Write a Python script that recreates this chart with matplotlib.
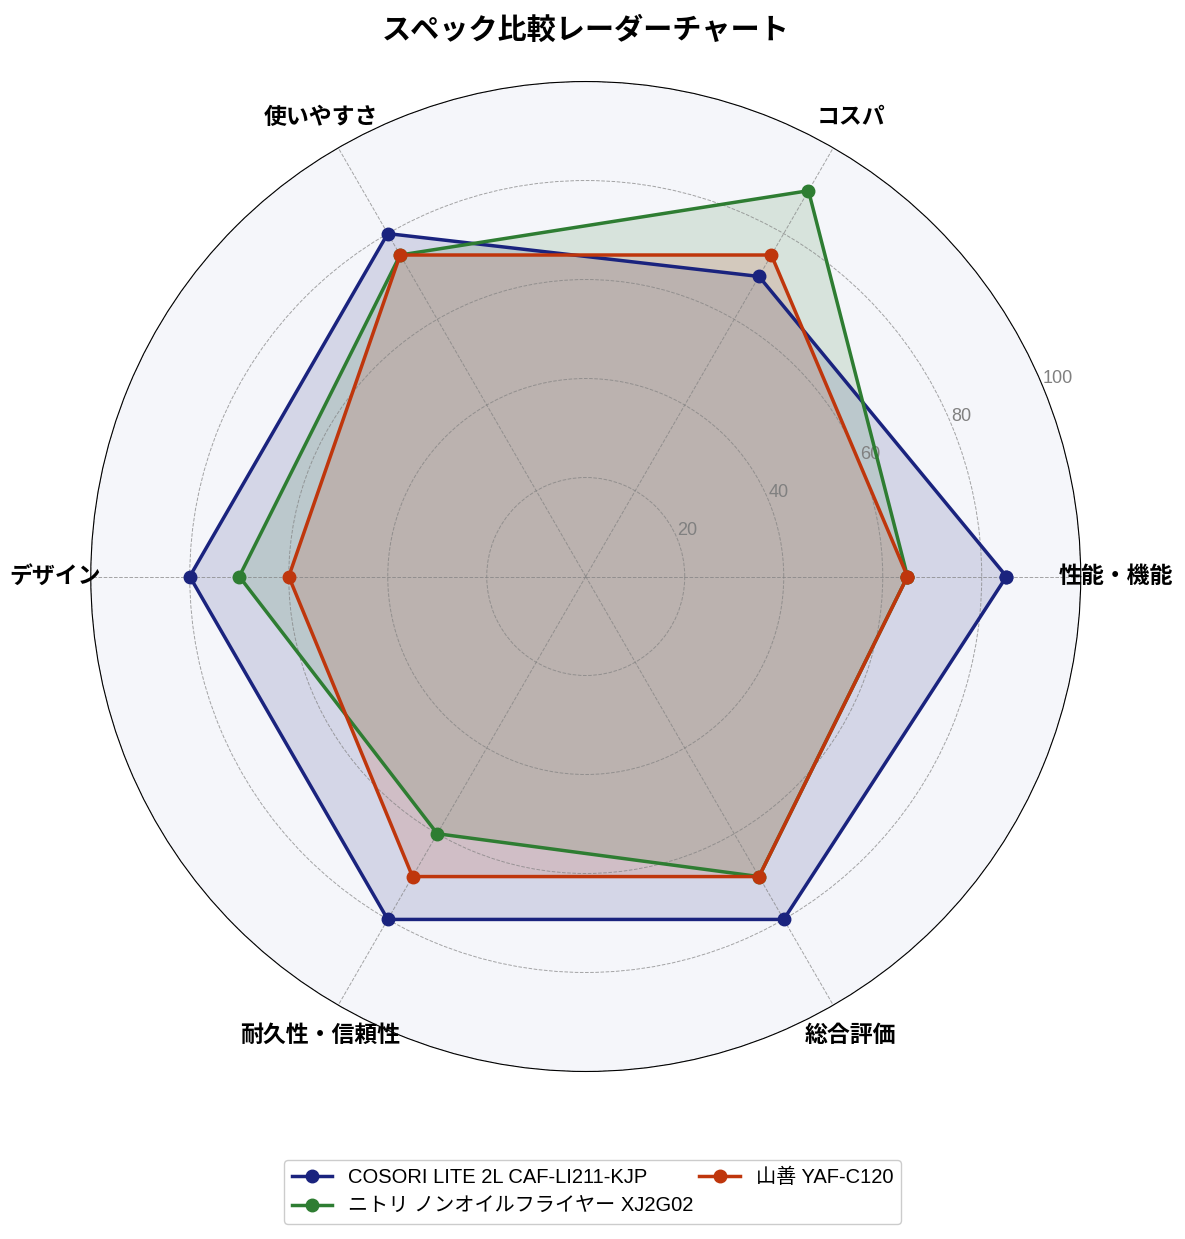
import numpy as np
import matplotlib.pyplot as plt

plt.rcParams['font.family'] = ['Liberation Sans', 'Noto Sans CJK JP']

categories = ["性能・機能", "コスパ", "使いやすさ", "デザイン", "耐久性・信頼性", "総合評価"]
products = ["COSORI LITE 2L CAF-LI211-KJP", "ニトリ ノンオイルフライヤー XJ2G02", "山善 YAF-C120"]
cosori = [85, 70, 80, 80, 80, 80]
nitori = [65, 90, 75, 70, 60, 70]
yamazen = [65, 75, 75, 60, 70, 70]
colors = ["#1a237e", "#2e7d32", "#bf360c"]
rticks = [20, 40, 60, 80, 100]

angles = np.linspace(0, 2 * np.pi, len(categories), endpoint=False).tolist()
angles += angles[:1]

fig = plt.figure(figsize=(11.85, 12.39), dpi=100)
ax = fig.add_axes([0.0766, 0.1352, 0.8354, 0.799], polar=True)
ax.set_facecolor("#f5f6fa")

for name, vals, c in zip(products, [cosori, nitori, yamazen], colors):
    v = vals + vals[:1]
    ax.plot(angles, v, "o-", color=c, linewidth=2.5, markersize=9, label=name)
    ax.fill(angles, v, color=c, alpha=0.15)

ax.set_ylim(0, 100)
ax.set_yticks(rticks)
ax.set_yticklabels([str(t) for t in rticks], color="gray", fontsize=13)
ax.set_rlabel_position(22.5)
ax.set_xticks(angles[:-1])
ax.set_xticklabels(categories, fontsize=16.5, fontweight="bold",
                   family=['Noto Sans CJK JP', 'DejaVu Sans'])
ax.tick_params(axis="x", pad=15)
ax.grid(color="gray", linestyle="--", linewidth=0.7, alpha=0.7)

ax.set_title("スペック比較レーダーチャート", fontsize=21, fontweight="bold", pad=31,
             family=['Noto Sans CJK JP', 'DejaVu Sans'])
fig.legend(loc="lower center", bbox_to_anchor=(0.5, 0.004), ncol=2, fontsize=14.5,
           columnspacing=0.3, framealpha=1, edgecolor="#cccccc")

fig.savefig("out.png", dpi=100)
